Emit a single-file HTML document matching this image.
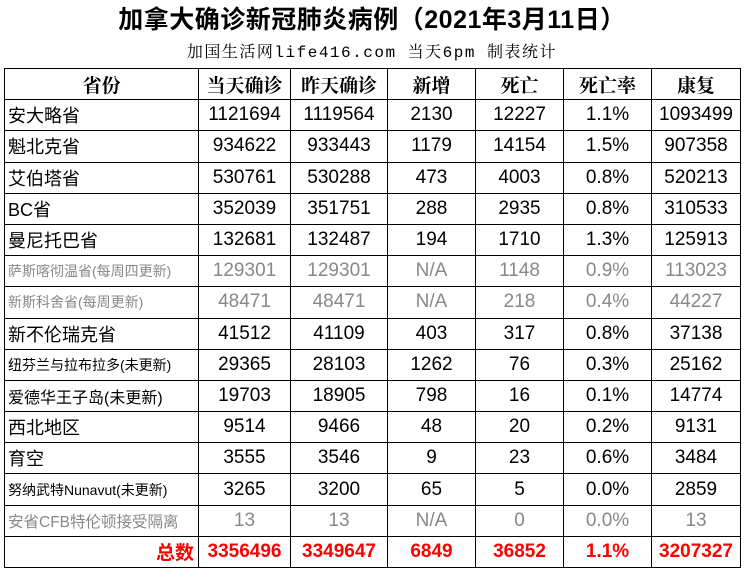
<!DOCTYPE html>
<html><head><meta charset="utf-8"><style>
body{margin:0;background:#fff;width:744px;height:584px;position:relative;overflow:hidden;font-family:"Liberation Sans","Noto Sans CJK SC",sans-serif}
.t{position:absolute;left:0;width:744px;text-align:center;top:0px;font-size:25px;font-weight:bold;color:#000;letter-spacing:0.5px}
.s{position:absolute;left:0;width:744px;text-align:center;top:39px;font-size:16px;font-family:"Liberation Mono","Noto Serif CJK SC",monospace;letter-spacing:1.5px}
table{position:absolute;left:4px;top:68px;border-collapse:collapse;table-layout:fixed}
td{border:1.5px solid #000;height:29.7px;padding:0;text-align:center;font-size:19px;white-space:nowrap;overflow:hidden;box-sizing:border-box}
tr{height:31.2px}
td.n{text-align:left;padding-left:3px;font-size:18px}
td.sm{font-size:14px}
tr.h td{font-size:19px;font-weight:bold;font-family:"Noto Serif CJK SC","Noto Sans CJK SC",serif}
tr.g td{color:#888}
tr.r td{color:#f00;font-weight:bold}
</style></head><body>
<div class="t">加拿大确诊新冠肺炎病例（2021年3月11日）</div>
<div class="s">加国生活网life416.com 当天6pm 制表统计</div>
<table>
<colgroup><col style="width:194px"><col style="width:92px"><col style="width:97px"><col style="width:88px"><col style="width:88px"><col style="width:88px"><col style="width:89px"></colgroup>
<tr class="h"><td>省份</td><td>当天确诊</td><td>昨天确诊</td><td>新增</td><td>死亡</td><td>死亡率</td><td>康复</td></tr>
<tr><td class="n">安大略省</td><td>1121694</td><td>1119564</td><td>2130</td><td>12227</td><td>1.1%</td><td>1093499</td></tr>
<tr><td class="n">魁北克省</td><td>934622</td><td>933443</td><td>1179</td><td>14154</td><td>1.5%</td><td>907358</td></tr>
<tr><td class="n">艾伯塔省</td><td>530761</td><td>530288</td><td>473</td><td>4003</td><td>0.8%</td><td>520213</td></tr>
<tr><td class="n">BC省</td><td>352039</td><td>351751</td><td>288</td><td>2935</td><td>0.8%</td><td>310533</td></tr>
<tr><td class="n">曼尼托巴省</td><td>132681</td><td>132487</td><td>194</td><td>1710</td><td>1.3%</td><td>125913</td></tr>
<tr class="g"><td class="n sm">萨斯喀彻温省(每周四更新)</td><td>129301</td><td>129301</td><td>N/A</td><td>1148</td><td>0.9%</td><td>113023</td></tr>
<tr class="g"><td class="n sm">新斯科舍省(每周更新)</td><td>48471</td><td>48471</td><td>N/A</td><td>218</td><td>0.4%</td><td>44227</td></tr>
<tr><td class="n">新不伦瑞克省</td><td>41512</td><td>41109</td><td>403</td><td>317</td><td>0.8%</td><td>37138</td></tr>
<tr><td class="n sm">纽芬兰与拉布拉多(未更新)</td><td>29365</td><td>28103</td><td>1262</td><td>76</td><td>0.3%</td><td>25162</td></tr>
<tr><td class="n" style="font-size:16px">爱德华王子岛(未更新)</td><td>19703</td><td>18905</td><td>798</td><td>16</td><td>0.1%</td><td>14774</td></tr>
<tr><td class="n">西北地区</td><td>9514</td><td>9466</td><td>48</td><td>20</td><td>0.2%</td><td>9131</td></tr>
<tr><td class="n">育空</td><td>3555</td><td>3546</td><td>9</td><td>23</td><td>0.6%</td><td>3484</td></tr>
<tr><td class="n sm">努纳武特Nunavut(未更新)</td><td>3265</td><td>3200</td><td>65</td><td>5</td><td>0.0%</td><td>2859</td></tr>
<tr class="g"><td class="n" style="font-size:15.5px">安省CFB特伦顿接受隔离</td><td>13</td><td>13</td><td>N/A</td><td>0</td><td>0.0%</td><td>13</td></tr>
<tr class="r"><td style="text-align:right;padding-right:4px">总数</td><td>3356496</td><td>3349647</td><td>6849</td><td>36852</td><td>1.1%</td><td>3207327</td></tr>
</table>
</body></html>
